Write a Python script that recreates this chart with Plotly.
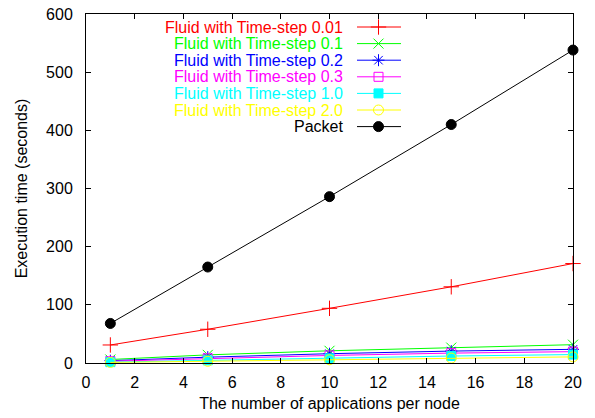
import plotly.graph_objects as go

apps = [1, 5, 10, 15, 20]
fluid_001 = [31, 58, 94, 131, 171]
fluid_01 = [6, 14, 21, 26.5, 31.5]
fluid_02 = [4, 10, 16, 20.5, 23.5]
fluid_03 = [3, 8, 13, 17, 19.5]
fluid_10 = [1.5, 4.5, 8, 12, 14.5]
fluid_20 = [1, 3, 5.5, 8.5, 10.5]
packet = [68, 165, 286, 410, 538]

x_ticks = [0, 2, 4, 6, 8, 10, 12, 14, 16, 18, 20]
y_ticks = [0, 100, 200, 300, 400, 500, 600]

series = [
    ("Fluid with Time-step 0.01", fluid_001, "#ff0000", "cross-thin"),
    ("Fluid with Time-step 0.1", fluid_01, "#00ff00", "x-thin"),
    ("Fluid with Time-step 0.2", fluid_02, "#0000ff", "asterisk"),
    ("Fluid with Time-step 0.3", fluid_03, "#ff00ff", "square-open"),
    ("Fluid with Time-step 1.0", fluid_10, "#00ffff", "square"),
    ("Fluid with Time-step 2.0", fluid_20, "#ffff00", "circle-open"),
    ("Packet", packet, "#000000", "circle"),
]

W, H = 595, 418
L, R, T, B = 86, 22, 14, 55
FONT = "Liberation Sans, Arial, sans-serif"
FS = 16

fig = go.Figure()

def marker_spec(sym, color):
    size = {"cross-thin": 11, "x-thin": 10, "asterisk": 10,
            "square-open": 9, "square": 9, "circle-open": 10,
            "circle": 10}[sym]
    return dict(symbol=sym, size=size, color=color,
                line=dict(color=color, width=1))

for name, vals, color, sym in series:
    fig.add_trace(go.Scatter(
        x=apps, y=vals, mode="lines+markers", name=name,
        line=dict(color=color, width=1),
        marker=marker_spec(sym, color),
        showlegend=False, cliponaxis=False,
    ))

# Custom gnuplot-style legend (text right-aligned, sample on the right)
row0, dy = 27, 16.6
text_right = 345
samp_x0, samp_x1, samp_mid = 357, 401, 378.5
for i, (name, vals, color, sym) in enumerate(series):
    yy = row0 + i * dy
    fig.add_trace(go.Scatter(
        x=[samp_x0, samp_x1], y=[yy, yy], mode="lines",
        line=dict(color=color, width=1), xaxis="x2", yaxis="y2",
        showlegend=False, hoverinfo="skip"))
    fig.add_trace(go.Scatter(
        x=[samp_mid], y=[yy], mode="markers",
        marker=marker_spec(sym, color), xaxis="x2", yaxis="y2",
        showlegend=False, hoverinfo="skip"))
    fig.add_annotation(x=text_right, y=yy, xref="x2", yref="y2",
                       text=name, showarrow=False, xanchor="right",
                       yanchor="middle",
                       font=dict(family=FONT, size=FS, color=color))

axis_common = dict(
    showgrid=False, zeroline=False, showline=True, linecolor="black",
    linewidth=1, mirror="allticks", ticks="inside", ticklen=5,
    tickcolor="black", tickfont=dict(family=FONT, size=FS, color="black"),
    automargin=False,
)

fig.update_layout(
    width=W, height=H,
    margin=dict(l=L, r=R, t=T, b=B, pad=0, autoexpand=False),
    paper_bgcolor="white", plot_bgcolor="white",
    font=dict(family=FONT, size=FS, color="black"),
    xaxis=dict(range=[0, 20], tickvals=x_ticks, ticklabelstandoff=5,
               title=dict(text="The number of applications per node",
                          font=dict(family=FONT, size=FS), standoff=7),
               **axis_common),
    yaxis=dict(range=[0, 600], tickvals=y_ticks, ticklabelstandoff=9,
               title=dict(text="Execution time (seconds)",
                          font=dict(family=FONT, size=FS), standoff=14),
               **axis_common),
    xaxis2=dict(overlaying="x", range=[L, W - R], visible=False,
                fixedrange=True),
    yaxis2=dict(overlaying="y", range=[H - B, T], visible=False,
                fixedrange=True),
)

fig.write_html("out.html")
